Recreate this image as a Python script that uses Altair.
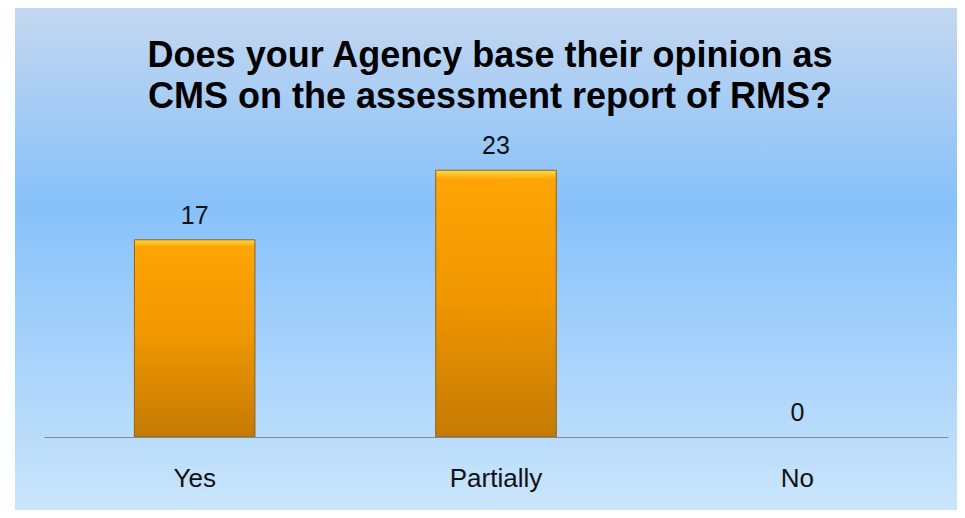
import altair as alt
import pandas as pd

categories = ["Yes", "Partially", "No"]
values = [17, 23, 0]
title_lines = ["Does your Agency base their opinion as",
               "CMS on the assessment report of RMS?"]

df = pd.DataFrame({"answer": categories, "count": values})
one = pd.DataFrame({"k": [0]})

W, H = 904, 290

bg_grad = alt.Gradient(
    gradient="linear", x1=0, y1=0, x2=0, y2=1,
    stops=[
        alt.GradientStop(offset=0, color="#c4d7f0"),
        alt.GradientStop(offset=0.38, color="#87c1fa"),
        alt.GradientStop(offset=1, color="#cde7fc"),
    ],
)

bar_grad = alt.Gradient(
    gradient="linear", x1=0, y1=0, x2=0, y2=1,
    stops=[
        alt.GradientStop(offset=0, color="#ffd84a"),
        alt.GradientStop(offset=0.035, color="#ffa404"),
        alt.GradientStop(offset=0.5, color="#ef9600"),
        alt.GradientStop(offset=1, color="#c47a04"),
    ],
)

background = alt.Chart(one).mark_rect(fill=bg_grad).encode(
    x=alt.value(-29), x2=alt.value(930),
    y=alt.value(-139), y2=alt.value(380),
)

x_enc = alt.X(
    "answer:N", sort=categories, title=None,
    scale=alt.Scale(paddingInner=0.6, paddingOuter=0.3),
    axis=alt.Axis(
        labelAngle=0, labelFont="Liberation Sans", labelFontSize=26,
        labelColor="#111111", labelPadding=28, ticks=False,
        domainColor="#7f8c99", domainWidth=1.2, grid=False, zindex=2,
    ),
)
y_enc = alt.Y("count:Q", scale=alt.Scale(domain=[0, 25]), axis=None)

bars = alt.Chart(df).mark_bar(
    fill=bar_grad, stroke="#8c6418", strokeWidth=1
).encode(
    x=x_enc, y=y_enc,
    strokeOpacity=alt.condition("datum.count > 0", alt.value(1), alt.value(0)),
)

labels = alt.Chart(df).mark_text(
    font="Liberation Sans", fontSize=25, color="#111111",
    baseline="alphabetic", dy=-16,
).encode(x=alt.X("answer:N", sort=categories), y=y_enc, text="count:Q")

title_marks = [
    alt.Chart(one).mark_text(
        text=line, font="Liberation Sans", fontSize=36, fontWeight="bold",
        color="#000000", align="center", baseline="alphabetic",
    ).encode(x=alt.value(W / 2 - 6), y=alt.value(yv))
    for line, yv in zip(title_lines, [-80, -39])
]

chart = alt.layer(background, bars, labels, *title_marks).properties(
    width=W, height=H,
    autosize=alt.AutoSizeParams(type="none"),
    padding={"left": 36, "top": 139, "right": 9, "bottom": 73},
).configure_view(stroke=None).configure(background="white")

chart.save("out.html", embed_options={"renderer": "svg", "actions": False})
